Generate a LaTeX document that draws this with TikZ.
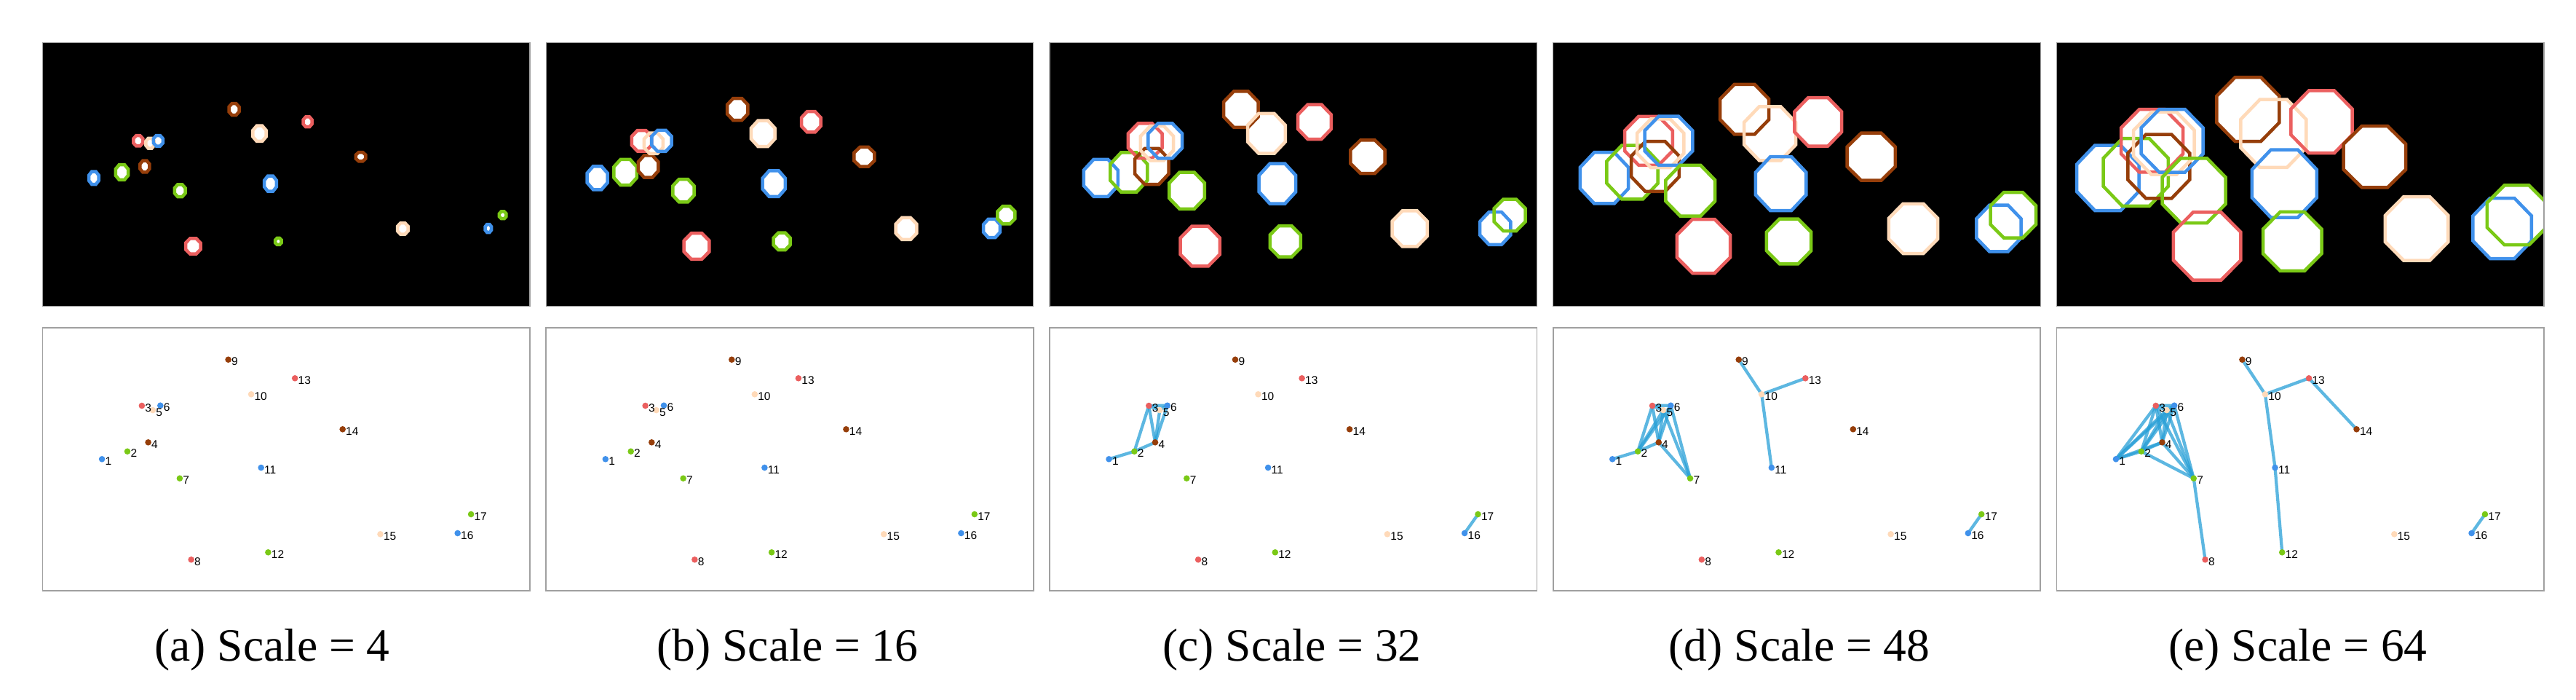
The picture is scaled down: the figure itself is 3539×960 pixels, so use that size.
\documentclass[tikz,border=0pt]{standalone}
\usepackage{fontspec}
\setmainfont{Liberation Serif}
\newfontfamily\lblfont{Liberation Sans}
\definecolor{cA}{RGB}{64,145,235}   % blue
\definecolor{cB}{RGB}{122,201,22}   % green
\definecolor{cC}{RGB}{235,95,95}    % red
\definecolor{cD}{RGB}{150,62,10}    % brown
\definecolor{cE}{RGB}{255,218,185}  % peach
\definecolor{edgeblue}{RGB}{40,160,215}
\definecolor{framegray}{RGB}{160,160,160}
% object data: k/colour/top-x/top-y/width at scale 64/height at scale 64/bottom-x/bottom-y
\def\objs{1/cA/70.3/185.6/90/94/81.5/180,
2/cB/108.8/177.8/93.8/97.3/116.4/169.4,
3/cC/131.2/134.6/89.5/90.7/136.3/106.7,
4/cD/140.3/169.8/89.5/92.3/145/157,
5/cE/147.5/138/88/90.3/151.3/112.8,
6/cA/158.7/134.6/89.5/91/161.7/106.4,
7/cB/188.6/203/91.4/93.3/188.3/206.4,
8/cC/206.7/279.3/97/97.7/204.1/318,
9/cD/262.9/91.4/90.5/92.3/255/43.4,
10/cE/297.9/124.6/94.7/97.7/286.5/91,
11/cA/312.9/193.4/93.3/97.7/300.1/191.7,
12/cB/323.8/272.7/85/85.5/309.8/308,
13/cC/364/108.6/88.6/90.3/346.6/69,
14/cD/437/156.5/90/88.7/412.1/139,
15/cE/494.7/255.2/91/92/463.9/283,
16/cA/612.2/254.8/85/87.5/570.1/281.7,
17/cB/632.1/236.6/86/86.3/588.5/255.7}
\newcommand\octo[5]{% centre x, centre y, half width, half height, options
  \path[#5] ({#1+#3},{#2+0.4142*#4}) -- ({#1+0.4142*#3},{#2+#4})
    -- ({#1-0.4142*#3},{#2+#4}) -- ({#1-#3},{#2+0.4142*#4})
    -- ({#1-#3},{#2-0.4142*#4}) -- ({#1-0.4142*#3},{#2-#4})
    -- ({#1+0.4142*#3},{#2-#4}) -- ({#1+#3},{#2-0.4142*#4}) -- cycle;}
\tikzset{
  maskbox/.style={fill=black, draw=framegray, line width=0.25pt},
  graphbox/.style={fill=white, draw=framegray, line width=0.35pt},
  octfill/.style={fill=white},
  octline/.style={line width=0.9pt, line join=miter},
  edge/.style={draw=edgeblue, opacity=0.75, line width=0.85pt, line cap=round},
  dot/.style={circle, inner sep=0pt, minimum size=1.72pt, draw=none},
  lbl/.style={inner sep=0pt, anchor=base west, xshift=0.7pt, yshift=-1.6pt,
    font=\lblfont\fontsize{3.1}{3.7}\selectfont},
  caption/.style={inner sep=0pt, anchor=base, font=\fontsize{12.7}{15}\selectfont}
}
\begin{document}
\begin{tikzpicture}[x=0.2pt,y=-0.2pt]
\useasboundingbox (0,0) rectangle (3539,960);
\foreach \p/\s/\lab/\capx in {0/4/a/374,1/16/b/1082,2/32/c/1775,3/48/d/2472,4/64/e/3157}{
  \pgfmathsetmacro\X{58.6+691.7*\p}
  % top: masks with octagons
  \path[maskbox] (\X,58.7) rectangle ++(669.5,362);
  \begin{scope}
    \clip (\X,58.7) rectangle ++(669.5,362);
    \foreach \k/\col/\tx/\ty/\w/\h/\bx/\by in \objs{
      \pgfmathsetmacro\cx{\X+\tx}
      \pgfmathsetmacro\cy{58.7+\ty}
      \pgfmathsetmacro\hw{(\w-1.2*(64-\s)-4.5)/2}
      \pgfmathsetmacro\hh{(\h-1.2*(64-\s)-4.5)/2}
      \octo{\cx}{\cy}{\hw}{\hh}{octfill}
    }
    \foreach \k/\col/\tx/\ty/\w/\h/\bx/\by in \objs{
      \pgfmathsetmacro\cx{\X+\tx}
      \pgfmathsetmacro\cy{58.7+\ty}
      \pgfmathsetmacro\hw{(\w-1.2*(64-\s)-4.5)/2}
      \pgfmathsetmacro\hh{(\h-1.2*(64-\s)-4.5)/2}
      \octo{\cx}{\cy}{\hw}{\hh}{octline,draw=\col}
    }
  \end{scope}
  \draw[framegray, line width=0.25pt] (\X,58.7) rectangle ++(669.5,362);
  % bottom: graph frame and node positions
  \path[graphbox] (\X,450.3) rectangle ++(669.5,360.7);
  \foreach \k/\col/\tx/\ty/\w/\h/\bx/\by in \objs{
    \coordinate (n\lab-\k) at ({\X+\bx},{450.3+\by});
  }
  \node[caption] (cap\lab) at (\capx,907) {(\lab) Scale = \s};
}
% edges
\foreach \u/\v in {1/2,2/4,2/3,3/4,4/5,4/6,3/6,3/5,5/6,16/17}
  \draw[edge] (nc-\u) -- (nc-\v);
\foreach \u/\v in {1/2,2/3,2/4,2/5,2/6,3/4,3/6,3/5,4/5,4/6,4/7,5/7,6/7,9/10,10/13,10/11,16/17}
  \draw[edge] (nd-\u) -- (nd-\v);
\foreach \u/\v in {1/2,1/3,1/4,1/5,1/6,2/3,2/4,2/5,2/6,2/7,3/4,3/5,3/6,3/7,4/5,4/6,4/7,5/6,5/7,6/7,7/8,9/10,10/13,13/14,10/11,11/12,16/17}
  \draw[edge] (ne-\u) -- (ne-\v);
% dots and labels
\foreach \lab in {a,b,c,d,e}{
  \foreach \k/\col/\tx/\ty/\w/\h/\bx/\by in \objs{
    \node[dot, fill=\col] (dot\lab-\k) at (n\lab-\k) {};
  }
  \foreach \k/\col/\tx/\ty/\w/\h/\bx/\by in \objs{
    \node[lbl] (lbl\lab-\k) at (n\lab-\k) {\k};
  }
}
\end{tikzpicture}
\end{document}
